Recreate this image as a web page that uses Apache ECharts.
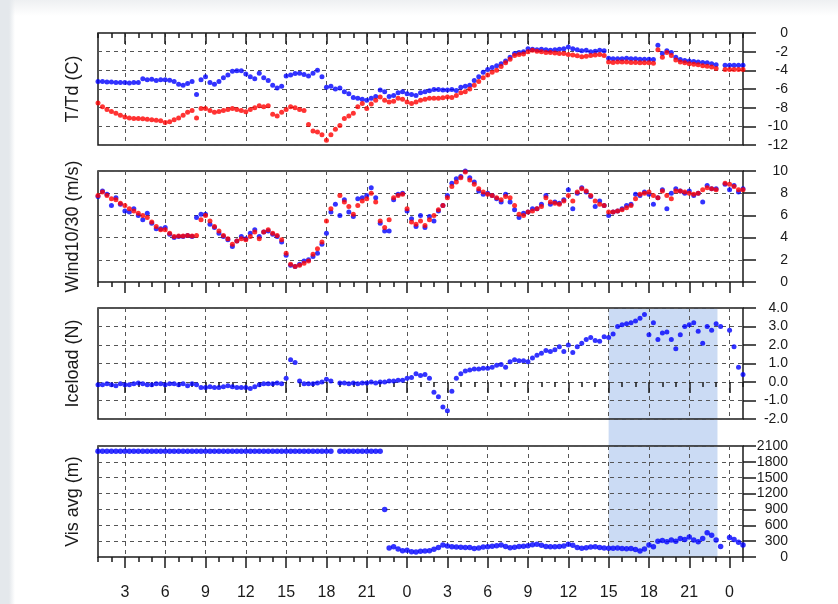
<!DOCTYPE html>
<html>
<head>
<meta charset="utf-8">
<script src="https://cdn.jsdelivr.net/npm/echarts@6/dist/echarts.min.js"></script>
<style>
  html, body { margin: 0; padding: 0; }
  body {
    width: 838px; height: 604px; overflow: hidden;
    background:
      linear-gradient(to right, #e4e8ec 0, #e4e8ec 9px, rgba(255,255,255,0) 15px),
      linear-gradient(to bottom, #eef0f2 0, #ffffff 16px);
  }
  #chart { width: 838px; height: 604px; }
</style>
</head>
<body>
<div id="chart"></div>
<script>
// Time axis: hours from the start of day 1 (1 .. 49), sampled every 20 minutes
const T_START = 1;
const T_STEP = 1 / 3;
const X_MIN = 1;
const X_MAX = 49;
const MAJOR_HOURS = [3, 6, 9, 12, 15, 18, 21, 24, 27, 30, 33, 36, 39, 42, 45, 48];

// Shaded icing period (hours)
const BAND_START = 39;
const BAND_END = 47.1;

// Temperature (C), one row per hour
const temperature = [
  -5.2, -5.2, -5.25,   -5.25, -5.3, -5.3,   -5.3, -5.35, -5.3,   -5.3, -4.9, -5.0,
  -4.95, -5.1, -5.0,   -5.0, -5.05, -5.2,   -5.5, -5.6, -5.4,    -5.2, -6.6, -5.0,
  -4.7, -5.3, -5.5,    -5.2, -4.8, -4.5,    -4.1, -4.05, -4.05,  -4.4, -4.7, -4.9,
  -4.3, -4.8, -5.1,    -5.6, -5.9, -5.7,    -4.6, -4.5, -4.35,   -4.3, -4.45, -4.6,
  -4.3, -4.0, -4.7,    -5.8, -5.7, -6.0,    -5.9, -6.3, -6.5,    -6.9, -7.0, -7.1,
  -7.2, -7.0, -6.8,    -6.1, -6.3, -6.8,    -6.7, -6.4, -6.3,    -6.5, -6.6, -6.7,
  -6.4, -6.3, -6.2,    -6.05, -6.05, -6.1,  -6.1, -6.05, -6.15,  -5.8, -5.7, -5.6,
  -5.1, -4.7, -4.2,    -3.9, -3.7, -3.5,    -3.3, -3.0, -2.6,    -2.2, -2.1, -2.0,
  -1.7, -1.75, -1.8,   -1.75, -1.8, -1.85,  -1.8, -1.75, -1.7,   -1.5, -1.7, -1.8,
  -1.9, -1.85, -2.0,   -1.95, -1.85, -1.9,  -2.7, -2.75, -2.75,  -2.75, -2.7, -2.75,
  -2.75, -2.8, -2.8,   -2.8, -2.85, -1.3,   -2.2, -1.9, -2.1,    -2.6, -2.85, -2.95,
  -3.0, -3.05, -3.1,   -3.15, -3.2, -3.3,   -3.4, null, -3.45,   -3.45, -3.45, -3.45,
  -3.45
];

// Dew point (C)
const dewPoint = [
  -7.5, -7.9, -8.2,    -8.4, -8.6, -8.8,    -9.0, -9.1, -9.15,   -9.15, -9.2, -9.25,
  -9.3, -9.35, -9.4,   -9.6, -9.5, -9.3,    -9.1, -8.8, -8.5,    -8.3, -9.1, -8.1,
  -8.1, -8.3, -8.5,    -8.4, -8.3, -8.2,    -8.1, -8.2, -8.3,    -8.45, -8.2, -8.0,
  -7.8, -7.9, -7.8,    -8.7, -8.9, -8.5,    -8.2, -7.9, -8.0,    -8.2, -8.3, -9.8,
  -10.5, -10.6, -10.9, -11.5, -10.9, -10.3, -9.9, -9.15, -8.9,   -8.6, -7.9, -7.55,
  -8.1, -7.6, -7.2,    -6.85, -7.2, -7.4,   -7.3, -7.0, -7.1,    -7.4, -7.55, -7.4,
  -7.2, -7.1, -7.0,    -7.0, -7.0, -6.95,   -6.85, -6.9, -6.7,   -6.4, -6.3, -6.0,
  -5.6, -5.2, -4.8,    -4.5, -4.2, -4.0,    -3.6, -3.2, -2.8,    -2.4, -2.3, -2.25,
  -2.0, -1.85, -1.95,  -2.0, -2.1, -2.1,    -2.15, -2.2, -2.2,   -2.3, -2.35, -2.45,
  -2.55, -2.5, -2.4,   -2.35, -2.3, -2.4,   -3.1, -3.15, -3.1,   -3.1, -3.1, -3.15,
  -3.15, -3.2, -3.2,   -3.2, -3.25, -1.8,   -2.6, -2.1, -2.4,    -2.9, -3.1, -3.2,
  -3.3, -3.35, -3.4,   -3.5, -3.55, -3.65,  -3.8, null, -3.9,    -3.9, -3.9, -3.9,
  -3.9
];

// Wind speed at 10 m (m/s)
const wind10 = [
  7.7, 8.2, 7.9,   6.9, 7.6, 7.0,   6.4, 6.3, 6.6,   6.0, 5.6, 6.2,
  5.3, 4.8, 4.8,   4.9, 4.3, 4.0,   4.1, 4.1, 4.2,   4.1, 5.8, 6.1,
  6.1, 5.2, 4.9,   4.4, 4.1, 3.8,   3.2, 3.7, 4.1,   3.9, 4.4, 4.7,
  4.1, 4.5, 4.6,   4.3, 4.1, 3.6,   2.4, 1.5, 1.4,   1.6, 1.9, 2.0,
  2.3, 2.6, 3.4,   4.4, 6.3, 7.0,   6.0, 7.4, 6.3,   5.9, 7.5, 7.6,
  7.8, 8.5, 7.6,   5.3, 4.6, 4.6,   7.4, 7.9, 8.0,   6.4, 5.7, 5.0,
  6.0, 4.9, 5.9,   5.5, 6.4, 6.9,   7.8, 8.9, 9.3,   9.5, 10.0, 9.4,
  9.0, 8.2, 7.9,   8.0, 7.8, 7.5,   7.2, 7.9, 7.2,   6.5, 5.8, 6.2,
  6.3, 6.6, 6.6,   7.0, 7.8, 7.0,   7.2, 7.1, 7.4,   8.3, 6.6, 8.0,
  8.5, 8.1, 7.7,   6.8, 7.3, 6.9,   6.0, 6.3, 6.4,   6.6, 6.9, 7.0,
  7.9, 7.8, 8.1,   7.9, 7.0, 7.6,   8.3, 6.6, 8.0,   8.4, 8.2, 8.0,
  8.2, 7.8, 8.0,   7.2, 8.7, 8.4,   8.4, null, 8.8,  8.3, 8.7, 8.1,
  8.4
];

// Wind speed at 30 m (m/s)
const wind30 = [
  7.8, 8.1, 7.8,   7.5, 7.4, 7.1,   6.9, 6.6, 6.4,   6.2, 6.0, 5.8,
  5.4, 5.0, 4.7,   4.7, 4.4, 4.1,   4.15, 4.15, 4.2, 4.15, 4.2, 5.6,
  6.0, 5.5, 5.0,   4.6, 4.2, 3.9,   3.4, 3.7, 3.9,   3.8, 4.1, 4.5,
  3.9, 4.5, 4.7,   4.4, 4.2, 3.8,   2.6, 1.6, 1.4,   1.5, 1.7, 1.9,
  2.5, 3.0, 3.6,   5.5, 6.6, null,  7.8, 7.2, 6.8,   6.1, 6.9, 7.3,
  7.5, 8.0, 7.2,   5.5, 4.9, 5.6,   7.6, 7.8, 7.9,   6.6, 5.4, 5.2,
  5.5, 5.1, 5.6,   6.0, 6.5, 6.9,   7.6, 8.6, 9.0,   9.4, 9.9, 9.2,
  8.8, 8.4, 8.1,   7.9, 7.8, 7.6,   7.4, 7.7, 7.6,   6.9, 6.1, 6.0,
  6.3, 6.4, 6.6,   6.8, 7.6, 7.2,   7.1, 7.0, 7.3,   7.8, 7.3, 8.1,
  8.4, 8.2, 7.8,   7.3, 7.0, 6.9,   6.3, 6.3, 6.4,   6.5, 6.7, 6.9,
  7.5, 7.9, 8.0,   8.1, 7.8, 7.6,   8.2, 7.8, 7.5,   8.2, 8.2, 8.1,
  8.0, 7.9, 8.0,   8.3, 8.5, 8.4,   8.3, null, 8.9,  8.8, 8.6, 8.3,
  8.3
];

// Ice load (N)
const iceLoad = [
  -0.15, -0.15, -0.1,  -0.15, -0.2, -0.1,   -0.15, -0.15, -0.1,  -0.05, -0.1, -0.15,
  -0.15, -0.1, -0.1,   -0.15, -0.1, -0.1,   -0.15, -0.1, -0.2,   -0.1, -0.15, -0.3,
  -0.3, -0.25, -0.3,   -0.3, -0.25, -0.2,   -0.25, -0.3, -0.3,   -0.3, -0.35, -0.25,
  -0.15, -0.1, -0.1,   -0.1, -0.05, -0.1,   0.2, 1.2, 1.05,      0.05, -0.1, -0.1,
  -0.1, -0.05, 0.0,    0.15, 0.05, null,    -0.05, -0.05, -0.1,  -0.05, -0.1, -0.05,
  -0.05, 0.0, -0.05,   0.0, 0.0, 0.05,      0.05, 0.1, 0.1,      0.2, 0.25, 0.45,
  0.35, 0.4, 0.2,      -0.55, -0.8, -1.35,  -1.55, -0.5, 0.2,    0.45, 0.6, 0.65,
  0.7, 0.7, 0.75,      0.75, 0.8, 0.9,      0.95, 0.8, 1.1,      1.2, 1.15, 1.15,
  1.1, 1.3, 1.45,      1.55, 1.7, 1.65,     1.75, 1.9, 1.65,     2.0, 1.6, 1.9,
  2.1, 2.3, 2.4,       2.25, 2.2, 2.45,     2.4, 2.6, 3.0,       3.1, 3.15, 3.2,
  3.3, 3.45, 3.65,     2.55, 3.2, 2.3,      2.65, 2.7, 2.3,      1.8, 2.55, 3.0,
  3.1, 3.2, 2.75,      2.1, 3.0, 2.8,       3.15, 3.0, null,     2.8, 1.9, 0.8,
  0.4
];

// Average visibility (m)
const visibility = [
  2000, 2000, 2000,  2000, 2000, 2000,  2000, 2000, 2000,  2000, 2000, 2000,
  2000, 2000, 2000,  2000, 2000, 2000,  2000, 2000, 2000,  2000, 2000, 2000,
  2000, 2000, 2000,  2000, 2000, 2000,  2000, 2000, 2000,  2000, 2000, 2000,
  2000, 2000, 2000,  2000, 2000, 2000,  2000, 2000, 2000,  2000, 2000, 2000,
  2000, 2000, 2000,  2000, 2000, null,  2000, 2000, 2000,  2000, 2000, 2000,
  2000, 2000, 2000,  2000, 900, 170,    195, 150, 120,     130, 100, 95,
  110, 115, 120,     145, 180, 225,     210, 195, 190,     185, 180, 180,
  160, 170, 190,     195, 205, 215,     225, 200, 175,     185, 200, 205,
  215, 230, 240,     220, 200, 195,     195, 200, 210,     240, 220, 180,
  165, 175, 190,     195, 180, 170,     165, 165, 170,     160, 155, 160,
  140, 115, 150,     225, 195, 300,     310, 290, 320,     300, 350, 330,
  380, 320, 290,     350, 460, 410,     320, 200, null,    370, 330, 280,
  225
];

// Panel definitions: axis name, range and tick spacing
const panels = [
  { name: 'T/Td (C)',        min: -12, max: 0,    interval: 2,   decimals: 0 },
  { name: 'Wind10/30 (m/s)', min: 0,   max: 10,   interval: 2,   decimals: 0 },
  { name: 'Iceload (N)',     min: -2,  max: 4,    interval: 1,   decimals: 1 },
  { name: 'Vis avg (m)',     min: 0,   max: 2100, interval: 300, decimals: 0 }
];

const BLUE = '#0000ff';
const RED = '#ff0000';
const FONT = "'Liberation Sans', Arial, Helvetica, sans-serif";
const INK = '#1a1a1a';

function toPoints(values) {
  const pts = [];
  values.forEach(function (v, i) {
    if (v !== null) pts.push([T_START + i * T_STEP, v]);
  });
  return pts;
}

const gridBoxes = [
  { top: 33,  height: 112 },
  { top: 171, height: 111 },
  { top: 308, height: 111 },
  { top: 446, height: 111 }
];

const grid = gridBoxes.map(function (b) {
  return {
    left: 98, right: 95, top: b.top, height: b.height,
    show: true, backgroundColor: 'transparent',
    borderColor: INK, borderWidth: 1.5
  };
});

const tickLine = { color: INK, width: 1.5 };
const dashLine = { color: '#555', width: 1, type: [4, 4] };

const xAxis = [];
const yAxis = [];
panels.forEach(function (p, i) {
  // major ticks every 3 hours, labelled with the hour of day
  xAxis.push({
    type: 'value', gridIndex: i, position: 'bottom',
    min: X_MIN, max: X_MAX,
    axisLine: { show: false },
    axisTick: { show: true, inside: false, length: 11, customValues: MAJOR_HOURS, lineStyle: tickLine },
    axisLabel: {
      show: i === panels.length - 1, customValues: MAJOR_HOURS,
      formatter: function (v) { return String(Math.round(v) % 24); },
      margin: 28, fontSize: 16, color: INK, fontFamily: FONT
    },
    splitLine: { show: true, lineStyle: dashLine }
  });
  // hourly minor ticks
  xAxis.push({
    type: 'value', gridIndex: i, position: 'bottom',
    min: X_MIN, max: X_MAX, interval: 1,
    axisLine: { show: false },
    axisTick: { show: true, inside: false, length: 5, lineStyle: tickLine },
    axisLabel: { show: false },
    splitLine: { show: false }
  });
  // value axis on the right
  yAxis.push({
    type: 'value', gridIndex: i, position: 'right',
    min: p.min, max: p.max, interval: p.interval,
    axisLine: { show: false },
    axisTick: { show: true, inside: false, length: 13, lineStyle: tickLine },
    axisLabel: {
      align: 'right', margin: 45, fontSize: 14, color: INK, fontFamily: FONT,
      formatter: function (v) { return v.toFixed(p.decimals); }
    },
    splitLine: { show: true, lineStyle: dashLine }
  });
  // title axis on the left
  yAxis.push({
    type: 'value', gridIndex: i, position: 'left',
    min: p.min, max: p.max,
    name: p.name, nameLocation: 'middle', nameGap: 16,
    nameTextStyle: { fontSize: 18, color: INK, fontFamily: FONT },
    axisLine: { show: false }, axisTick: { show: false },
    axisLabel: { show: false }, splitLine: { show: false }
  });
});

function dots(values, color, panel, size) {
  return {
    type: 'scatter',
    xAxisIndex: panel * 2, yAxisIndex: panel * 2,
    data: toPoints(values),
    symbol: 'circle', symbolSize: size || 5,
    itemStyle: { color: color },
    silent: true
  };
}

const chart = echarts.init(document.getElementById('chart'), null, { renderer: 'canvas' });
chart.setOption({
  animation: false,
  backgroundColor: 'transparent',
  grid: grid,
  xAxis: xAxis,
  yAxis: yAxis,
  series: [
    dots(temperature, BLUE, 0),
    dots(dewPoint, RED, 0),
    dots(wind10, BLUE, 1),
    dots(wind30, RED, 1),
    dots(iceLoad, BLUE, 2),
    dots(visibility, BLUE, 3, 5.5)
  ]
});

// Shaded icing period spanning the ice-load and visibility panels
const bandX0 = chart.convertToPixel({ xAxisIndex: 4 }, BAND_START);
const bandX1 = chart.convertToPixel({ xAxisIndex: 4 }, BAND_END);
const bandY0 = chart.convertToPixel({ yAxisIndex: 4 }, panels[2].max);
const bandY1 = chart.convertToPixel({ yAxisIndex: 6 }, panels[3].min);
chart.setOption({
  graphic: [{
    type: 'rect', z: -10, silent: true,
    shape: { x: bandX0, y: bandY0, width: bandX1 - bandX0, height: bandY1 - bandY0 },
    style: { fill: 'rgba(160,190,235,0.55)' }
  }]
});
</script>
</body>
</html>
